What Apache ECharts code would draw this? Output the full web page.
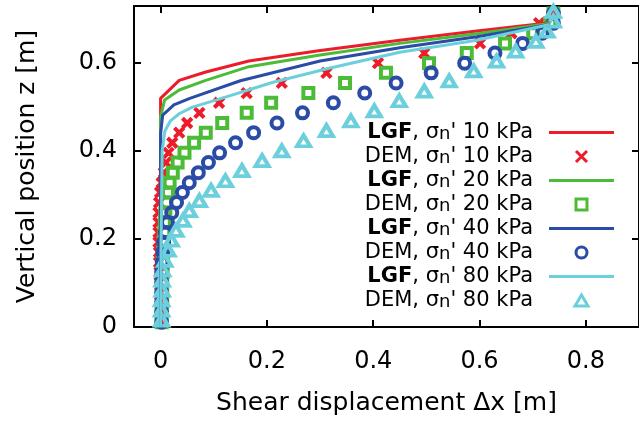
<!DOCTYPE html>
<html><head><meta charset="utf-8">
<script src="https://cdn.jsdelivr.net/npm/echarts@6/dist/echarts.min.js"></script>
<style>html,body{margin:0;padding:0;background:#fff}#c{width:639px;height:421px}</style>
</head><body><div id="c"></div>
<script>
// ---- data ----
const pressures = [10, 20, 40, 80];
const xTicks = [0, 0.2, 0.4, 0.6, 0.8];
const yTicks = [0, 0.2, 0.4, 0.6];

// LGF profiles (displacement x, height z)
const lgf10x = [0, 0, 0.035, 0.085, 0.166, 0.297, 0.45, 0.595, 0.732];
const lgf10z = [0, 0.52, 0.561, 0.580, 0.605, 0.628, 0.652, 0.673, 0.692];
const lgf20x = [0, 0, 0.0075, 0.035, 0.085, 0.166, 0.297, 0.45, 0.595, 0.732];
const lgf20z = [0, 0.478, 0.516, 0.539, 0.561, 0.592, 0.618, 0.645, 0.667, 0.690];
const lgf40x = [0, 0, 0.004, 0.025, 0.055, 0.15, 0.30, 0.45, 0.595, 0.732];
const lgf40z = [0, 0.44, 0.482, 0.505, 0.520, 0.560, 0.605, 0.635, 0.660, 0.688];
const lgf80x = [0, 0.001, 0.003, 0.008, 0.018, 0.035, 0.06, 0.104, 0.21, 0.315, 0.45, 0.595, 0.732];
const lgf80z = [0, 0.2, 0.4, 0.445, 0.468, 0.485, 0.500, 0.516, 0.556, 0.588, 0.625, 0.652, 0.688];

// DEM layer heights and displacements
const demZ = [0.011, 0.034, 0.057, 0.079, 0.102, 0.125, 0.147, 0.170, 0.193, 0.215,
              0.238, 0.260, 0.283, 0.306, 0.328, 0.351, 0.374, 0.396, 0.419, 0.442,
              0.464, 0.487, 0.510, 0.532, 0.555, 0.578, 0.600, 0.623, 0.645, 0.668,
              0.691, 0.713];
const dem10x = [0.000, 0.000, -0.001, -0.001, -0.002, -0.002, -0.003, -0.003, -0.004, -0.004,
                -0.004, -0.004, -0.003, -0.001, 0.002, 0.006, 0.010, 0.015, 0.022, 0.035,
                0.050, 0.073, 0.110, 0.162, 0.228, 0.312, 0.409, 0.496, 0.601, 0.660,
                0.712, 0.739];
const dem20x = [0.002, 0.002, 0.003, 0.003, 0.003, 0.004, 0.004, 0.005, 0.006, 0.007,
                0.008, 0.009, 0.011, 0.014, 0.017, 0.023, 0.032, 0.045, 0.063, 0.085,
                0.116, 0.162, 0.208, 0.278, 0.347, 0.424, 0.505, 0.576, 0.648, 0.701,
                0.733, 0.739];
const dem40x = [0.002, 0.002, 0.002, 0.002, 0.002, 0.002, 0.003, 0.004, 0.006, 0.009,
                0.013, 0.021, 0.030, 0.041, 0.054, 0.071, 0.090, 0.111, 0.141, 0.175,
                0.219, 0.267, 0.325, 0.384, 0.443, 0.509, 0.572, 0.629, 0.681, 0.718,
                0.739, 0.739];
const dem80x = [0.002, 0.002, 0.002, 0.003, 0.003, 0.004, 0.008, 0.014, 0.020, 0.029,
                0.042, 0.054, 0.073, 0.095, 0.122, 0.153, 0.191, 0.228, 0.269, 0.312,
                0.358, 0.402, 0.449, 0.496, 0.543, 0.589, 0.632, 0.668, 0.706, 0.727,
                0.739, 0.739];

// ---- styling ----
const colors = ['#ec1c2a', '#4cbc38', '#2b4ca6', '#6ccfdc'];
const FONT = 'DejaVu Sans';
const lgfX = [lgf10x, lgf20x, lgf40x, lgf80x];
const lgfZ = [lgf10z, lgf20z, lgf40z, lgf80z];
const demX = [dem10x, dem20x, dem40x, dem80x];
const CROSS = 'path://M0,0L10,10M10,0L0,10';
const SQUARE = 'path://M0,0L10,0L10,10L0,10Z';
const CIRCLE = 'path://M10,5A5,5,0,1,1,0,5A5,5,0,1,1,10,5Z';
const TRI = 'path://M6.5,0L13,11L0,11Z';
const demSymbols = [CROSS, SQUARE, CIRCLE, TRI];
const demSizes = [9.5, 10, 11, [13, 11]];
const demOffsets = [[0, 0], [0, 0], [0, 0], [0, -2]];
const LINEICON = 'path://M0,0L65,0L65,3L0,3Z';

function pairs(xs, zs) { return xs.map((x, i) => [x, zs[i]]); }

const series = [];
const legendData = [];
pressures.forEach((p, i) => {
  const ln = 'LGF ' + p, dn = 'DEM ' + p;
  legendData.push({ name: ln, icon: LINEICON, itemStyle: { color: colors[i], borderWidth: 0 } });
  legendData.push({ name: dn, icon: demSymbols[i], itemStyle: { color: 'rgba(0,0,0,0)', borderColor: colors[i], borderWidth: 3 } });
  series.push({
    name: ln, type: 'line', data: pairs(lgfX[i], lgfZ[i]),
    symbol: 'none', color: colors[i],
    lineStyle: { color: colors[i], width: 3 },
    animation: false
  });
  series.push({
    name: dn, type: 'scatter', data: pairs(demX[i], demZ),
    symbol: demSymbols[i], symbolSize: demSizes[i], symbolOffset: demOffsets[i],
    color: colors[i],
    itemStyle: { color: 'rgba(0,0,0,0)', borderColor: colors[i], borderWidth: 4, opacity: 1 },
    animation: false
  });
});

const axisCommon = {
  type: 'value',
  axisLine: { show: true, onZero: false, lineStyle: { color: '#000', width: 2 } },
  splitLine: { show: false }
};
const tickStyle = { color: '#000', width: 2 };

const chart = echarts.init(document.getElementById('c'), null, { renderer: 'canvas' });
chart.setOption({
  backgroundColor: '#fff',
  animation: false,
  grid: { left: 134, right: -5, top: 6, bottom: 93, containLabel: false },
  xAxis: [
    Object.assign({}, axisCommon, {
      min: -0.05, max: 0.9, position: 'bottom',
      axisTick: { show: true, inside: true, length: 7, customValues: xTicks, lineStyle: tickStyle },
      axisLabel: { show: true, customValues: xTicks, fontSize: 24, fontFamily: FONT, color: '#000', margin: 23 },
      name: 'Shear displacement Δx [m]', nameLocation: 'middle', nameGap: 64,
      nameTextStyle: { fontSize: 25, fontFamily: FONT, color: '#000' }
    }),
    Object.assign({}, axisCommon, {
      min: -0.05, max: 0.9, position: 'top',
      axisTick: { show: true, inside: true, length: 7, customValues: xTicks, lineStyle: tickStyle },
      axisLabel: { show: false }
    })
  ],
  yAxis: [
    Object.assign({}, axisCommon, {
      min: 0, max: 0.73, position: 'left',
      axisTick: { show: true, inside: true, length: 7, customValues: yTicks, lineStyle: tickStyle },
      axisLabel: { show: true, customValues: yTicks, fontSize: 24, fontFamily: FONT, color: '#000', margin: 17 },
      name: 'Vertical position z [m]', nameLocation: 'middle', nameGap: 94,
      nameTextStyle: { fontSize: 25, fontFamily: FONT, color: '#000' }
    }),
    Object.assign({}, axisCommon, {
      min: 0, max: 0.73, position: 'right',
      axisTick: { show: true, inside: true, length: 7, customValues: yTicks, lineStyle: tickStyle },
      axisLabel: { show: false }
    })
  ],
  legend: {
    data: legendData, orient: 'vertical', align: 'right',
    right: 25, top: 122, padding: 0,
    itemWidth: 65, itemHeight: 11, itemGap: 2.5,
    symbolKeepAspect: true,
    selectedMode: false,
    textStyle: {
      fontFamily: FONT, fontSize: 21, color: '#000',
      rich: {
        t: { fontFamily: FONT, fontSize: 21, lineHeight: 22, color: '#000' },
        b: { fontFamily: FONT, fontSize: 21, lineHeight: 22, color: '#000', fontWeight: 'bold' },
        s: { fontFamily: FONT, fontSize: 18, lineHeight: 10, color: '#000', verticalAlign: 'bottom' },
        sp: { fontFamily: FONT, fontSize: 21, lineHeight: 22, width: 11 }
      }
    },
    formatter: function (name) {
      const parts = name.split(' ');
      const head = parts[0] === 'LGF' ? '{b|LGF}' : '{t|DEM}';
      return head + '{t|, σ}{s|n}{t|\' ' + parts[1] + ' kPa}{sp| }';
    }
  },
  series: series
});
</script>
</body></html>
